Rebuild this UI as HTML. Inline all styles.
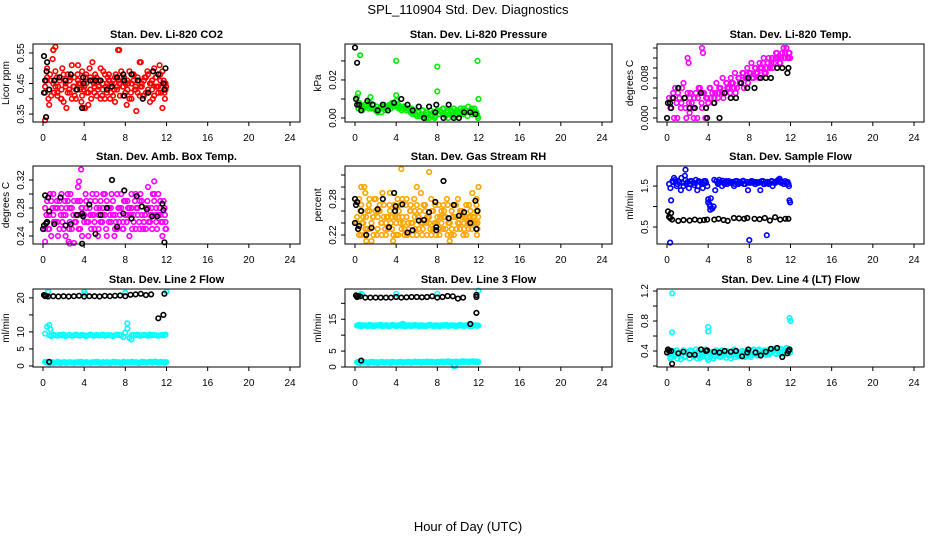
<!DOCTYPE html>
<html><head><meta charset="utf-8"><style>
html,body{margin:0;padding:0;background:#fff;}
svg{display:block;font-family:"Liberation Sans",Arial,sans-serif;}
</style></head><body>
<svg id="chart" width="936" height="540" viewBox="0 0 936 540">
<text x="468" y="14" text-anchor="middle" font-size="13">SPL_110904  Std. Dev. Diagnostics</text>
<text x="468" y="531" text-anchor="middle" font-size="13">Hour of Day (UTC)</text>
</svg>
<script>
// ---- shared time axis for dense series ----
const T60=[0.2,0.4,0.6,0.8,1.0,1.2,1.4,1.6,1.8,2.0,2.2,2.4,2.6,2.8,3.0,3.2,3.4,3.6,3.8,4.0,4.2,4.4,4.6,4.8,5.0,5.2,5.4,5.6,5.8,6.0,6.2,6.4,6.6,6.8,7.0,7.2,7.4,7.6,7.8,8.0,8.2,8.4,8.6,8.8,9.0,9.2,9.4,9.6,9.8,10.0,10.2,10.4,10.6,10.8,11.0,11.2,11.4,11.6,11.8,11.9];
const T60b=[0.33,0.52,0.68,0.93,1.07,1.35,1.46,1.74,1.88,2.13,2.27,2.55,2.66,2.94,3.08,3.36,3.47,3.73,3.92,4.14,4.26,4.53,4.68,4.95,5.07,5.34,5.48,5.75,5.86,6.13,6.28,6.52,6.67,6.94,7.06,7.33,7.47,7.74,7.87,8.13,8.27,8.54,8.66,8.93,9.07,9.34,9.46,9.73,9.88,10.14,10.26,10.53,10.67,10.94,11.08,11.33,11.47,11.72,11.84,11.96];
const xTicks=[0,4,8,12,16,20,24];

// ---- CO2 ----
const co2R1=[0.42,0.50,0.38,0.46,0.56,0.44,0.41,0.47,0.43,0.39,0.45,0.48,0.42,0.51,0.44,0.40,0.46,0.43,0.49,0.37,0.45,0.42,0.47,0.52,0.44,0.41,0.46,0.50,0.43,0.40,0.45,0.48,0.42,0.46,0.39,0.44,0.56,0.47,0.41,0.45,0.43,0.49,0.40,0.46,0.44,0.42,0.52,0.45,0.41,0.47,0.43,0.39,0.46,0.50,0.44,0.42,0.48,0.37,0.45,0.43];
const co2R2=[0.46,0.40,0.48,0.53,0.42,0.47,0.44,0.40,0.50,0.46,0.37,0.43,0.47,0.44,0.41,0.48,0.45,0.39,0.43,0.47,0.42,0.50,0.40,0.45,0.48,0.43,0.46,0.41,0.49,0.44,0.47,0.40,0.45,0.43,0.48,0.46,0.41,0.44,0.47,0.38,0.45,0.42,0.48,0.43,0.36,0.46,0.44,0.41,0.47,0.49,0.42,0.45,0.40,0.47,0.44,0.51,0.42,0.46,0.40,0.44];
const co2R3=[0.44,0.47,0.43,0.41,0.45,0.49,0.42,0.46,0.40,0.48,0.44,0.42,0.46,0.40,0.47,0.43,0.51,0.45,0.41,0.44,0.48,0.38,0.43,0.46,0.42,0.47,0.44,0.40,0.45,0.48,0.42,0.46,0.44,0.41,0.47,0.43,0.45,0.49,0.44,0.42,0.46,0.40,0.45,0.48,0.43,0.47,0.41,0.44,0.46,0.42,0.48,0.45,0.43,0.41,0.47,0.44,0.46,0.49,0.42,0.45];
const co2OutT=[0.2,1.2,1.0,7.3,9.5,4.1];
const co2OutV=[0.33,0.57,0.56,0.56,0.52,0.37];
const co2KT=[0.1,0.1,0.2,0.3,0.35,0.4,0.6,1.1,1.6,2.2,2.7,3.3,3.8,3.9,3.95,4.6,5.1,5.6,6.2,6.7,7.2,7.8,7.9,7.9,8.6,9.2,9.7,10.2,10.7,11.2,11.7,11.8,11.9];
const co2KV=[0.54,0.42,0.46,0.34,0.49,0.52,0.43,0.46,0.47,0.46,0.48,0.43,0.37,0.47,0.45,0.46,0.46,0.46,0.43,0.44,0.47,0.48,0.46,0.41,0.48,0.46,0.40,0.42,0.49,0.48,0.45,0.43,0.50];

// ---- Pressure ----
const prG1=[0.011,0.008,0.006,0.005,0.007,0.008,0.006,0.005,0.007,0.004,0.003,0.005,0.006,0.007,0.005,0.006,0.007,0.008,0.006,0.009,0.007,0.006,0.005,0.006,0.004,0.005,0.003,0.002,0.004,0.001,0.003,0.002,0.004,0.001,0.003,0.000,0.002,0.003,0.001,0.004,0.002,0.003,0.005,0.001,0.004,0.002,0.003,0.005,0.001,0.003,0.002,0.004,0.005,0.003,0.006,0.004,0.002,0.005,0.003,0.001];
const prG2=[0.005,0.006,0.004,0.007,0.006,0.005,0.008,0.007,0.005,0.006,0.004,0.003,0.005,0.004,0.006,0.007,0.005,0.006,0.007,0.006,0.005,0.004,0.006,0.005,0.005,0.004,0.005,0.004,0.002,0.003,0.001,0.004,0.002,0.000,0.002,0.004,0.001,0.000,0.003,0.002,0.004,0.005,0.002,0.003,0.000,0.004,0.002,0.001,0.004,0.003,0.005,0.002,0.004,0.001,0.003,0.005,0.004,0.003,0.002,0.000];
const prOutT=[0.5,0.3,4.0,4.0,8.0,8.0,11.9,12.0,1.5];
const prOutV=[0.033,0.013,0.030,0.012,0.027,0.014,0.030,0.010,0.011];
const prKT=[0.0,0.2,0.1,0.2,0.4,0.6,1.2,1.7,2.2,2.7,3.2,3.8,4.5,5.1,5.6,6.2,6.7,7.2,7.8,7.9,8.6,9.1,9.6,10.1,10.6,11.2,11.7];
const prKV=[0.037,0.029,0.010,0.007,0.007,0.004,0.009,0.007,0.004,0.007,0.004,0.008,0.010,0.007,0.004,0.006,0.000,0.006,0.003,0.007,0.000,0.007,0.000,0.000,0.003,0.003,0.002];

// ---- Li-820 Temp ----
const tmM1=[0.004,0.002,0.005,0.006,0.000,0.004,0.003,0.007,0.002,0.005,0.004,0.003,0.000,0.005,0.004,0.006,0.002,0.005,0.004,0.003,0.006,0.005,0.004,0.007,0.005,0.006,0.008,0.005,0.007,0.006,0.008,0.007,0.009,0.006,0.008,0.007,0.009,0.008,0.010,0.009,0.011,0.008,0.010,0.009,0.011,0.010,0.012,0.009,0.011,0.010,0.012,0.011,0.013,0.012,0.011,0.013,0.012,0.014,0.012,0.013];
const tmM2=[0.002,0.004,0.000,0.003,0.005,0.002,0.006,0.004,0.000,0.003,0.005,0.002,0.004,0.000,0.006,0.003,0.005,0.000,0.004,0.006,0.004,0.003,0.005,0.004,0.006,0.005,0.004,0.007,0.006,0.005,0.007,0.006,0.005,0.008,0.007,0.009,0.006,0.008,0.007,0.009,0.008,0.010,0.009,0.008,0.010,0.011,0.009,0.010,0.012,0.011,0.010,0.012,0.013,0.011,0.012,0.014,0.013,0.012,0.013,0.012];
const tmOutT=[2.0,2.1,3.4,3.5,2.2,9.0];
const tmOutV=[0.012,0.011,0.014,0.013,0.001,0.008];
const tmKT=[0.0,0.1,0.3,0.4,0.6,1.1,1.7,2.2,2.7,3.3,3.8,3.9,4.6,5.1,5.6,6.2,6.7,7.2,7.8,7.9,8.5,9.1,9.6,10.1,10.7,11.2,11.7,11.8];
const tmKV=[0.000,0.003,0.003,0.002,0.004,0.006,0.004,0.002,0.002,0.005,0.002,0.000,0.003,0.000,0.005,0.004,0.004,0.007,0.006,0.008,0.006,0.008,0.008,0.008,0.010,0.010,0.009,0.010];

// ---- Amb Box Temp ----
const abM1=[0.25,0.29,0.27,0.24,0.30,0.26,0.28,0.25,0.30,0.27,0.24,0.29,0.26,0.28,0.23,0.27,0.31,0.25,0.28,0.26,0.29,0.24,0.27,0.30,0.26,0.28,0.25,0.29,0.27,0.30,0.24,0.28,0.26,0.29,0.27,0.25,0.28,0.30,0.26,0.27,0.29,0.24,0.28,0.26,0.30,0.27,0.25,0.29,0.26,0.28,0.31,0.27,0.25,0.29,0.26,0.30,0.27,0.24,0.28,0.26];
const abM2=[0.27,0.25,0.30,0.28,0.26,0.29,0.24,0.27,0.26,0.29,0.28,0.25,0.30,0.27,0.26,0.29,0.25,0.28,0.27,0.30,0.26,0.28,0.25,0.27,0.29,0.24,0.28,0.26,0.30,0.25,0.28,0.27,0.30,0.24,0.26,0.28,0.27,0.25,0.29,0.26,0.28,0.27,0.25,0.29,0.28,0.26,0.30,0.25,0.27,0.29,0.26,0.28,0.30,0.27,0.25,0.28,0.26,0.29,0.27,0.25];
const abM3=[0.28,0.26,0.25,0.29,0.27,0.28,0.26,0.29,0.28,0.25,0.27,0.30,0.28,0.25,0.29,0.26,0.27,0.29,0.24,0.27,0.28,0.26,0.29,0.27,0.25,0.30,0.27,0.26,0.28,0.27,0.29,0.26,0.28,0.27,0.25,0.30,0.26,0.28,0.25,0.29,0.27,0.28,0.30,0.27,0.25,0.28,0.29,0.27,0.26,0.25,0.28,0.26,0.27,0.30,0.28,0.27,0.29,0.26,0.28,0.25];
const abOutT=[3.7,3.5,0.2,10.8,2.5,2.6];
const abOutV=[0.335,0.318,0.232,0.318,0.232,0.229];
const abKT=[0.0,0.1,0.2,0.3,0.4,0.5,0.6,1.1,1.7,2.2,2.7,3.3,3.8,3.9,3.8,4.5,5.1,5.6,6.2,6.7,7.2,7.8,7.9,8.6,9.1,9.6,10.1,10.6,11.1,11.6,11.7,11.8];
const abKV=[0.250,0.255,0.298,0.258,0.260,0.295,0.275,0.257,0.295,0.255,0.257,0.270,0.272,0.268,0.229,0.285,0.243,0.270,0.280,0.320,0.253,0.272,0.305,0.265,0.297,0.282,0.278,0.268,0.268,0.286,0.277,0.231];

// ---- Gas Stream RH ----
const rhH1=[0.25,0.22,0.27,0.24,0.29,0.23,0.26,0.21,0.25,0.28,0.23,0.26,0.24,0.27,0.22,0.25,0.29,0.23,0.26,0.24,0.22,0.27,0.25,0.23,0.28,0.24,0.26,0.22,0.25,0.27,0.23,0.29,0.24,0.26,0.22,0.25,0.28,0.23,0.27,0.24,0.22,0.26,0.25,0.23,0.27,0.24,0.26,0.22,0.25,0.28,0.23,0.26,0.24,0.27,0.23,0.25,0.29,0.24,0.26,0.23];
const rhH2=[0.23,0.26,0.24,0.22,0.25,0.27,0.23,0.25,0.28,0.22,0.26,0.24,0.29,0.23,0.25,0.27,0.24,0.22,0.25,0.28,0.26,0.23,0.24,0.27,0.22,0.26,0.24,0.28,0.23,0.25,0.26,0.22,0.27,0.24,0.25,0.23,0.26,0.24,0.22,0.27,0.25,0.23,0.26,0.28,0.24,0.22,0.25,0.27,0.23,0.24,0.26,0.22,0.25,0.24,0.27,0.23,0.25,0.24,0.22,0.25];
const rhH3=[0.24,0.28,0.22,0.25,0.23,0.26,0.28,0.24,0.22,0.26,0.25,0.27,0.22,0.25,0.24,0.23,0.26,0.25,0.27,0.22,0.25,0.24,0.28,0.22,0.25,0.23,0.27,0.24,0.26,0.22,0.25,0.24,0.23,0.27,0.25,0.24,0.22,0.26,0.24,0.25,0.23,0.24,0.27,0.25,0.22,0.24,0.23,0.25,0.27,0.24,0.26,0.25,0.23,0.22,0.25,0.26,0.24,0.25,0.27,0.24];
const rhOutT=[4.5,7.2,3.7,9.2,12.0,11.8,0.6,0.9,6.0,1.1];
const rhOutV=[0.33,0.325,0.21,0.21,0.30,0.28,0.30,0.30,0.30,0.21];
const rhKT=[0.0,0.0,0.1,0.2,0.4,0.3,0.6,1.1,1.6,2.2,2.7,3.3,3.8,3.9,3.95,4.6,5.1,5.6,6.2,6.7,7.2,7.8,7.9,7.9,8.6,9.1,9.6,10.1,10.6,11.2,11.7,11.8,11.9];
const rhKV=[0.28,0.24,0.27,0.275,0.235,0.23,0.26,0.22,0.232,0.263,0.28,0.233,0.29,0.26,0.268,0.271,0.224,0.228,0.244,0.245,0.258,0.275,0.233,0.228,0.31,0.248,0.27,0.252,0.258,0.24,0.277,0.23,0.26];

// ---- Sample Flow ----
const sfB1=[1.55,1.15,1.60,1.65,1.55,1.60,1.70,1.50,1.65,1.60,1.55,1.62,1.58,1.65,1.50,1.60,1.55,1.62,1.58,1.10,1.00,0.95,1.65,1.62,1.58,1.60,1.63,1.55,1.60,1.62,1.58,1.60,1.55,1.62,1.60,1.58,1.63,1.55,1.60,1.58,1.62,1.60,1.55,1.58,1.60,1.62,1.55,1.58,1.60,1.57,1.62,1.58,1.60,1.65,1.63,1.60,1.55,1.58,1.55,1.15];
const sfB2=[1.45,1.62,1.70,1.50,1.62,1.40,1.58,1.75,1.55,1.45,1.62,1.58,1.52,1.40,1.62,1.58,1.45,1.62,1.50,1.05,1.20,1.00,1.40,1.55,1.65,1.50,1.58,1.62,1.55,1.58,1.60,1.50,1.62,1.55,1.58,1.62,1.55,1.60,1.40,1.58,1.62,1.55,1.60,1.58,1.40,1.62,1.55,1.60,1.55,1.62,1.50,1.58,1.62,1.68,1.58,1.55,1.62,1.60,1.50,1.10];
const sfOutT=[0.3,1.8,8.0,9.7,4.0,4.2];
const sfOutV=[0.12,1.9,0.18,0.3,1.18,0.92];
const sfKT=[0.1,0.2,0.3,0.4,0.5,1.1,1.6,2.2,2.7,3.2,3.6,3.9,4.6,5.0,5.5,5.9,6.5,7.0,7.5,7.8,8.5,9.0,9.5,10.0,10.5,11.0,11.5,11.8];
const sfKV=[0.88,0.75,0.72,0.84,0.68,0.65,0.67,0.66,0.68,0.66,0.67,0.68,0.68,0.70,0.67,0.65,0.72,0.71,0.70,0.72,0.70,0.69,0.72,0.66,0.74,0.68,0.70,0.70];

// ---- Line 2 Flow ----
const l2C1=[9.5,11.5,9.0,8.8,9.2,9.0,8.9,9.1,9.0,9.2,8.8,9.0,9.1,8.9,9.0,9.2,9.0,8.9,9.1,9.0,8.8,9.0,9.2,9.0,8.9,9.1,9.0,9.0,9.2,8.9,9.0,9.1,9.0,8.8,9.0,9.2,9.1,9.0,8.5,9.8,11.0,8.2,9.0,9.1,9.0,9.2,8.9,9.0,9.1,9.0,8.9,9.2,9.0,9.1,9.0,8.9,9.0,9.1,9.0,9.2];
const l2C2=[1.2,1.0,0.8,1.1,0.9,1.0,1.2,0.9,1.0,1.1,0.9,1.0,1.1,1.0,0.9,1.1,1.0,1.2,0.9,1.0,1.1,1.0,0.9,1.1,1.0,1.2,1.0,0.9,1.1,1.0,1.1,0.9,1.0,1.2,1.0,1.1,1.0,0.9,1.2,1.0,1.1,1.0,1.2,1.0,1.1,0.9,1.0,1.2,1.1,1.0,1.1,1.2,1.0,1.3,1.1,1.0,1.2,1.1,1.0,1.1];
const l2OutT=[0.5,0.6,4.0,4.1,8.0,8.2,8.6,12.0,0.7];
const l2OutV=[21.8,12.0,21.8,21.2,21.5,12.5,7.8,21.8,10.8];
const l2KT=[0.1,0.2,0.3,0.5,1.0,1.5,2.0,2.5,3.0,3.5,4.0,4.5,5.0,5.5,6.0,6.5,7.0,7.5,8.0,8.5,9.0,9.5,10.0,10.5,11.2,11.7,11.8,0.6];
const l2KV=[20.8,20.5,20.6,20.4,20.5,20.4,20.5,20.4,20.5,20.6,20.4,20.5,20.5,20.4,20.6,20.5,20.6,20.7,20.5,20.9,21.0,21.2,20.8,21.0,14.0,15.0,21.2,1.2];

// ---- Line 3 Flow ----
const l3C1=[13.0,13.2,12.8,13.1,13.0,12.9,13.2,13.0,12.8,13.1,13.0,13.2,12.9,13.0,13.1,12.8,13.0,13.2,13.0,12.9,13.1,13.0,13.5,12.8,13.0,13.1,12.9,13.0,13.2,13.0,12.8,13.1,13.0,12.9,13.0,13.2,13.0,12.9,13.1,13.0,12.8,13.1,13.0,13.2,12.9,13.0,13.1,13.0,12.8,13.0,13.2,13.0,12.9,13.1,13.0,12.8,13.0,13.1,13.0,13.0];
const l3C2=[1.5,1.3,1.6,1.4,1.5,1.3,1.5,1.6,1.4,1.5,1.3,1.5,1.6,1.4,1.5,1.5,1.3,1.6,1.5,1.4,1.5,1.6,1.4,1.5,1.5,1.6,1.4,1.5,1.7,1.5,1.6,1.4,1.6,1.5,1.7,1.5,1.6,1.5,1.4,1.6,1.5,1.7,1.5,1.6,1.8,1.5,1.6,0.3,1.7,1.5,1.6,1.8,1.6,1.7,1.5,1.7,1.8,1.6,1.7,1.6];
const l3OutT=[0.6,0.7,4.0,8.0,12.0];
const l3OutV=[23.0,22.8,23.0,23.0,24.0];
const l3KT=[0.1,0.2,0.3,0.5,1.0,1.5,2.0,2.5,3.0,3.5,4.0,4.5,5.0,5.5,6.0,6.5,7.0,7.5,8.0,8.5,9.0,9.5,10.0,10.5,11.2,11.8,11.8,11.8,0.6];
const l3KV=[22.5,22.0,22.3,22.2,21.8,21.8,21.8,21.8,21.8,21.8,22.0,21.8,21.9,22.0,22.0,21.9,22.0,22.2,21.8,22.0,22.3,22.2,21.5,21.8,13.5,17.0,22.0,22.6,2.0];

// ---- Line 4 (LT) Flow ----
const l4C1=[0.36,0.32,0.40,0.35,0.30,0.38,0.34,0.41,0.33,0.37,0.30,0.39,0.35,0.42,0.34,0.31,0.38,0.36,0.40,0.28,0.35,0.39,0.33,0.41,0.36,0.32,0.38,0.35,0.40,0.34,0.30,0.37,0.41,0.35,0.33,0.39,0.36,0.32,0.40,0.37,0.35,0.42,0.38,0.34,0.40,0.36,0.39,0.35,0.41,0.37,0.38,0.42,0.36,0.40,0.43,0.38,0.41,0.44,0.39,0.42];
const l4C2=[0.30,0.38,0.33,0.41,0.37,0.29,0.36,0.32,0.39,0.35,0.41,0.33,0.37,0.30,0.40,0.36,0.33,0.42,0.31,0.37,0.34,0.30,0.39,0.36,0.33,0.41,0.37,0.31,0.36,0.39,0.34,0.42,0.32,0.38,0.36,0.40,0.33,0.39,0.35,0.32,0.40,0.36,0.39,0.42,0.35,0.38,0.41,0.37,0.35,0.40,0.43,0.37,0.41,0.38,0.36,0.42,0.39,0.37,0.43,0.38];
const l4OutT=[0.5,0.5,4.0,4.0,11.9,12.0];
const l4OutV=[1.17,0.65,0.72,0.66,0.84,0.80];
const l4KT=[0.0,0.1,0.2,0.4,0.5,1.1,1.6,2.2,2.7,3.3,3.8,3.9,4.6,5.1,5.6,6.2,6.7,7.3,7.8,7.9,8.6,9.1,9.6,10.1,10.7,11.2,11.7,11.8,11.9];
const l4KV=[0.38,0.42,0.40,0.40,0.23,0.37,0.39,0.35,0.35,0.42,0.40,0.41,0.39,0.38,0.40,0.39,0.40,0.33,0.38,0.42,0.38,0.34,0.39,0.43,0.44,0.32,0.37,0.40,0.42];

const svg=document.getElementById('chart');
const NS='http://www.w3.org/2000/svg';
function mk(tag,attrs,parent){const e=document.createElementNS(NS,tag);for(const k in attrs)e.setAttribute(k,attrs[k]);(parent||svg).appendChild(e);return e;}

const panels=[
 {col:0,row:0,key:'co2',title:'Stan. Dev. Li-820 CO2',ylab:'Licor ppm',ymin:0.324,ymax:0.5795,yt:[0.35,0.40,0.45,0.50,0.55],yl:['0.35','','0.45','','0.55'],
  series:[{t:T60,v:co2R1,c:'#ff0000'},{t:T60b,v:co2R2,c:'#ff0000'},{t:T60,v:co2R3,c:'#ff0000'},{t:co2OutT,v:co2OutV,c:'#ff0000'},{t:co2KT,v:co2KV,c:'#000000'}]},
 {col:1,row:0,key:'pressure',title:'Stan. Dev. Li-820 Pressure',ylab:'kPa',ymin:-0.0021,ymax:0.0389,yt:[0,0.01,0.02,0.03],yl:['0.00','','0.02',''],
  series:[{t:T60,v:prG1,c:'#00ee00'},{t:T60b,v:prG2,c:'#00ee00'},{t:prOutT,v:prOutV,c:'#00ee00'},{t:prKT,v:prKV,c:'#000000'}]},
 {col:2,row:0,key:'li820-temp',title:'Stan. Dev. Li-820 Temp.',ylab:'degrees C',ymin:-0.0008,ymax:0.0148,yt:[0,0.002,0.004,0.006,0.008,0.010,0.012,0.014],yl:['0.000','','','','0.008','','',''],
  series:[{t:T60,v:tmM1,c:'#ff00ff'},{t:T60b,v:tmM2,c:'#ff00ff'},{t:tmOutT,v:tmOutV,c:'#ff00ff'},{t:tmKT,v:tmKV,c:'#000000'}]},
 {col:0,row:1,key:'amb-box-temp',title:'Stan. Dev. Amb. Box Temp.',ylab:'degrees C',ymin:0.2286,ymax:0.34,yt:[0.24,0.26,0.28,0.30,0.32],yl:['0.24','','0.28','','0.32'],
  series:[{t:T60,v:abM1,c:'#ff00ff'},{t:T60b,v:abM2,c:'#ff00ff'},{t:T60,v:abM3,c:'#ff00ff'},{t:abOutT,v:abOutV,c:'#ff00ff'},{t:abKT,v:abKV,c:'#000000'}]},
 {col:1,row:1,key:'gas-stream-rh',title:'Stan. Dev. Gas Stream RH',ylab:'percent',ymin:0.205,ymax:0.335,yt:[0.22,0.24,0.26,0.28,0.30,0.32],yl:['0.22','','','0.28','',''],
  series:[{t:T60,v:rhH1,c:'#ffa500'},{t:T60b,v:rhH2,c:'#ffa500'},{t:T60,v:rhH3,c:'#ffa500'},{t:rhOutT,v:rhOutV,c:'#ffa500'},{t:rhKT,v:rhKV,c:'#000000'}]},
 {col:2,row:1,key:'sample-flow',title:'Stan. Dev. Sample Flow',ylab:'ml/min',ymin:0.085,ymax:1.99,yt:[0.5,1.0,1.5],yl:['0.5','','1.5'],
  series:[{t:T60,v:sfB1,c:'#0000ff'},{t:T60b,v:sfB2,c:'#0000ff'},{t:sfOutT,v:sfOutV,c:'#0000ff'},{t:sfKT,v:sfKV,c:'#000000'}]},
 {col:0,row:2,key:'line2-flow',title:'Stan. Dev. Line 2 Flow',ylab:'ml/min',ymin:-0.3,ymax:22.6,yt:[0,5,10,15,20],yl:['0','5','10','','20'],
  series:[{t:T60,v:l2C1,c:'#00ffff'},{t:T60b,v:l2C2,c:'#00ffff'},{t:T60,v:l2C2,c:'#00ffff'},{t:l2OutT,v:l2OutV,c:'#00ffff'},{t:l2KT,v:l2KV,c:'#000000'}]},
 {col:1,row:2,key:'line3-flow',title:'Stan. Dev. Line 3 Flow',ylab:'ml/min',ymin:0,ymax:24.5,yt:[0,5,10,15,20],yl:['0','5','','15',''],
  series:[{t:T60,v:l3C1,c:'#00ffff'},{t:T60b,v:l3C1,c:'#00ffff'},{t:T60,v:l3C2,c:'#00ffff'},{t:T60b,v:l3C2,c:'#00ffff'},{t:l3OutT,v:l3OutV,c:'#00ffff'},{t:l3KT,v:l3KV,c:'#000000'}]},
 {col:2,row:2,key:'line4-flow',title:'Stan. Dev. Line 4 (LT) Flow',ylab:'ml/min',ymin:0.187,ymax:1.227,yt:[0.2,0.4,0.6,0.8,1.0,1.2],yl:['','0.4','','0.8','','1.2'],
  series:[{t:T60,v:l4C1,c:'#00ffff'},{t:T60b,v:l4C2,c:'#00ffff'},{t:l4OutT,v:l4OutV,c:'#00ffff'},{t:l4KT,v:l4KV,c:'#000000'}]}
];
const LEFTS=[33,345,657], TOPS=[44,166,289], W=267, H=78;

panels.forEach(p=>{
  const L=LEFTS[p.col], Tp=TOPS[p.row], B=Tp+H;
  const xs=t=>L+10+t*247/24;
  const ys=v=>B-(v-p.ymin)/(p.ymax-p.ymin)*H;
  const g=mk('g',{});
  
  
  const tt=mk('text',{x:L+W/2,y:Tp-6,'text-anchor':'middle','font-size':'11','font-weight':'bold'},g);
  tt.textContent=p.title;
  
  
  const yl=mk('text',{transform:'translate('+(L-24)+','+(Tp+H/2)+') rotate(-90)','text-anchor':'middle','font-size':'10'},g);
  yl.textContent=p.ylab;
  
  
  p.series.forEach(s=>{
    for(let i=0;i<s.t.length;i++){
      const y=ys(s.v[i]); if(y<Tp-1||y>B+1) continue;
      const c=mk('circle',{cx:xs(s.t[i]).toFixed(1),cy:y.toFixed(1),r:2.3,fill:'none',stroke:s.c,'stroke-width':1.6},g);
      
      
    }
  });
  const box=mk('rect',{x:L,y:Tp,width:W,height:H,fill:'none',stroke:'#000','stroke-width':1},g);
  
  
  xTicks.forEach(t=>{
    mk('line',{x1:xs(t),x2:xs(t),y1:B,y2:B+4,stroke:'#000'},g);
    const lt=mk('text',{x:xs(t),y:B+19,'text-anchor':'middle','font-size':'10'},g);
    lt.textContent=t;
    
    
  });
  p.yt.forEach((v,i)=>{
    const y=ys(v);
    mk('line',{x1:L-4,x2:L,y1:y,y2:y,stroke:'#000'},g);
    if(p.yl[i]){
      const lt=mk('text',{transform:'translate('+(L-9)+','+y+') rotate(-90)','text-anchor':'middle','font-size':'10'},g);
      lt.textContent=p.yl[i];
      
      
    }
  });
});
</script>
</body></html>
